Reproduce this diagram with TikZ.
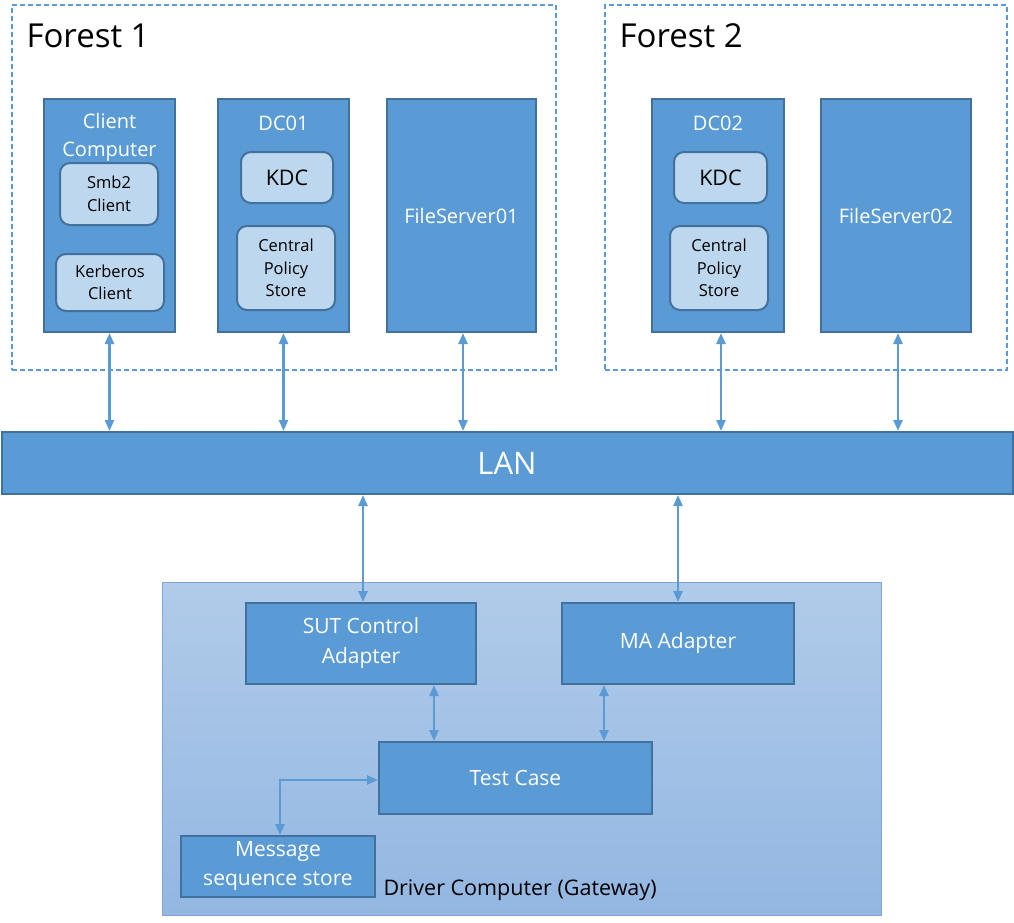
\documentclass[tikz,border=0pt]{standalone}
\usepackage{fontspec}
\setmainfont{Open Sans}
\usetikzlibrary{arrows.meta}
\definecolor{boxblue}{HTML}{5B9BD5}
\definecolor{edgeblue}{HTML}{41719C}
\definecolor{paleblue}{HTML}{BDD7EE}
\definecolor{drvtop}{HTML}{B1CBE9}
\definecolor{drvbottom}{HTML}{93B7E2}
\definecolor{drvedge}{HTML}{7EA6D6}
\tikzset{
  forestbox/.style={draw=boxblue, line width=1.5pt, dash pattern=on 5pt off 3pt},
  hostbox/.style={draw=edgeblue, fill=boxblue, line width=2pt, text=white, align=center, font=\fontsize{20}{29}\selectfont},
  partbox/.style={draw=edgeblue, fill=paleblue, line width=2pt, rounded corners=10pt, align=center, font=\fontsize{16.5}{22.5}\selectfont},
  hosttitle/.style={text=white, align=center, font=\fontsize{20}{28}\selectfont},
  link/.style={draw=boxblue, line width=2.5pt, {Triangle[length=11pt,width=9pt]}-{Triangle[length=11pt,width=9pt]}},
}
\begin{document}
\begin{tikzpicture}[x=1pt, y=-1pt]
\useasboundingbox (0,0) rectangle (1014,923);
\node[forestbox, minimum width=544pt, minimum height=365pt] (F1) at (284,187.5) {};
\node[forestbox, minimum width=402pt, minimum height=365pt] (F2) at (806,187.5) {};
\node[anchor=west, font=\fontsize{33}{38}\selectfont] (F1title) at (23,36) {Forest 1};
\node[anchor=west, font=\fontsize{33}{38}\selectfont] (F2title) at (616,36) {Forest 2};
\node[hostbox, minimum width=131pt, minimum height=233pt] (CC) at (109.5,215.5) {};
\node[hostbox, minimum width=131pt, minimum height=233pt] (DC1) at (283.5,215.5) {};
\node[hostbox, minimum width=149pt, minimum height=233pt] (FS1) at (461.5,215.5) {FileServer01};
\node[hostbox, minimum width=132pt, minimum height=233pt] (DC2) at (718,215.5) {};
\node[hostbox, minimum width=150pt, minimum height=233pt] (FS2) at (896,215.5) {FileServer02};
\node[hosttitle] (CCtitle) at (109.5,137) {Client\\Computer};
\node[hosttitle] (DC1title) at (283.5,123) {DC01};
\node[hosttitle] (DC2title) at (718,123) {DC02};
\node[partbox, minimum width=98pt, minimum height=62pt] (SMB) at (109,194) {Smb2\\Client};
\node[partbox, minimum width=108pt, minimum height=57pt] (KC) at (110,282.5) {Kerberos\\Client};
\node[partbox, minimum width=92pt, minimum height=51pt, font=\fontsize{21.5}{24}\selectfont] (KDC1) at (287,177.5) {KDC};
\node[partbox, minimum width=98pt, minimum height=84pt] (CPS1) at (286,268) {Central\\Policy\\Store};
\node[partbox, minimum width=93pt, minimum height=51pt, font=\fontsize{21.5}{24}\selectfont] (KDC2) at (720.5,177.5) {KDC};
\node[partbox, minimum width=98pt, minimum height=84pt] (CPS2) at (719,268) {Central\\Policy\\Store};
\node[hostbox, minimum width=1011pt, minimum height=62pt, font=\fontsize{31}{34}\selectfont] (LAN) at (507,463) {LAN};
\node[draw=drvedge, line width=1pt, top color=drvtop, bottom color=drvbottom, minimum width=719pt, minimum height=333pt] (DRV) at (521.5,748.5) {};
\node[anchor=west, font=\fontsize{21.5}{24}\selectfont] (DRVtitle) at (380,890) {Driver Computer (Gateway)};
\node[hostbox, minimum width=230pt, minimum height=81pt, font=\fontsize{21}{30}\selectfont] (SUT) at (361,643.5) {SUT Control\\Adapter};
\node[hostbox, minimum width=232pt, minimum height=81pt, font=\fontsize{21}{30}\selectfont] (MA) at (678,643.5) {MA Adapter};
\node[hostbox, minimum width=273pt, minimum height=72pt, font=\fontsize{21}{30}\selectfont] (TC) at (515.5,778) {Test Case};
\node[hostbox, minimum width=194pt, minimum height=61pt, font=\fontsize{21}{29}\selectfont] (MSS) at (278,866.5) {Message\\sequence store};
\draw[link] (CC.south) -- (CC.south |- LAN.north);
\draw[link] (DC1.south) -- (DC1.south |- LAN.north);
\draw[link] ([xshift=1.5pt]FS1.south) -- ([xshift=1.5pt]FS1.south |- LAN.north);
\draw[link] ([xshift=3pt]DC2.south) -- ([xshift=3pt]DC2.south |- LAN.north);
\draw[link] ([xshift=2pt]FS2.south) -- ([xshift=2pt]FS2.south |- LAN.north);
\draw[link] ([xshift=2pt]SUT.north) -- ([xshift=2pt]SUT.north |- LAN.south);
\draw[link] (MA.north) -- (MA.north |- LAN.south);
\draw[link] ([xshift=-43pt]SUT.south east) -- ([xshift=-43pt]SUT.south east |- TC.north);
\draw[link] ([xshift=43pt]MA.south west) -- ([xshift=43pt]MA.south west |- TC.north);
\draw[link] ([xshift=2pt]MSS.north) |- ([yshift=-2pt]TC.west);
\end{tikzpicture}
\end{document}
